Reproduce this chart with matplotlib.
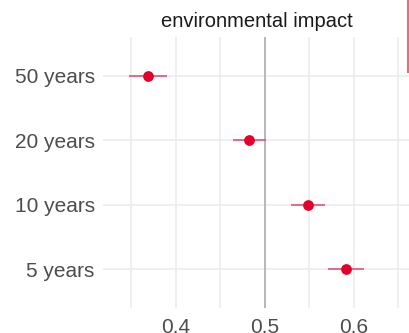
import matplotlib
matplotlib.use("Agg")
from matplotlib import pyplot as plt
import numpy as np

plt.rcParams['font.family'] = ['Liberation Sans', 'DejaVu Sans']

categories = ["5 years", "10 years", "20 years", "50 years"]
estimate = [0.591, 0.548, 0.482, 0.369]
lower = [0.571, 0.529, 0.464, 0.347]
upper = [0.611, 0.567, 0.501, 0.390]
title = "environmental impact"

fig = plt.figure(figsize=(4.1, 3.33), dpi=100)
ax = fig.add_axes([103 / 410, 1 - 308 / 333, 1 - 103 / 410, 271 / 333])

y = np.arange(1, len(categories) + 1)
est = np.array(estimate)
err = [est - np.array(lower), np.array(upper) - est]

# grid
for v in [0.35, 0.4, 0.45, 0.5, 0.55, 0.6, 0.65]:
    ax.axvline(v, color="#ebebeb", lw=1.1, zorder=0)
for v in y:
    ax.axhline(v, color="#ebebeb", lw=1.1, zorder=0)
ax.axvline(0.5, color="#b8b8b8", lw=1.4, zorder=1)

ax.errorbar(est, y, xerr=err, fmt="none", ecolor="#e8436a", elinewidth=1.1,
            capsize=0, zorder=2)
ax.scatter(est, y, s=60, color="#e4002b", zorder=3, linewidths=0)

ax.set_xlim(0.318, 0.663)
ax.set_ylim(0.4, 4.6)
ax.set_yticks(y)
ax.set_yticklabels(categories)
ax.set_xticks([0.4, 0.5, 0.6])
ax.set_xticklabels(["0.4", "0.5", "0.6"])
ax.tick_params(length=0, labelsize=15, colors="#4d4d4d")
ax.tick_params(axis="x", pad=7)
ax.tick_params(axis="y", pad=6)
for s in ax.spines.values():
    s.set_visible(False)
ax.set_title(title, fontsize=14.5, color="#1a1a1a", pad=7)

# edge of neighbouring legend/strip
fig.add_artist(plt.Line2D([408.5 / 410, 408.5 / 410], [1, 1 - 71 / 333],
                          color="#e07272", lw=2.2))

fig.savefig("out.png", dpi=100)
